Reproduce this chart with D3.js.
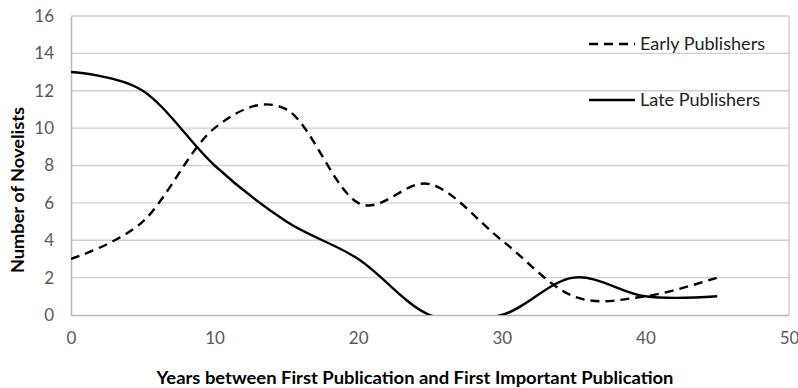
<!DOCTYPE html>
<html><head><meta charset="utf-8">
<script src="https://cdn.jsdelivr.net/npm/d3@7"></script>
<style>body{margin:0;background:#fff}svg{display:block}</style>
</head><body>
<svg id="c" width="798" height="388"></svg>
<script>
const years = [0, 5, 10, 15, 20, 25, 30, 35, 40, 45];
const earlyPublishers = [3, 5, 10, 11, 6, 7, 4, 1, 1, 2];
const latePublishers = [13, 12, 8, 5, 3, 0, 0, 2, 1, 1];
const xTicks = [0, 10, 20, 30, 40, 50];
const yTicks = [0, 2, 4, 6, 8, 10, 12, 14, 16];
const seriesNames = ["Early Publishers", "Late Publishers"];

const svg = d3.select("#c");
const m = {l:71, r:9, t:16, b:73};
const W = 798, H = 388;
const x = d3.scaleLinear().domain([0,50]).range([m.l, W-m.r]);
const y = d3.scaleLinear().domain([0,16]).range([H-m.b, m.t]);
const font = "Lato, 'Open Sans', sans-serif";

svg.append("defs").append("clipPath").attr("id","plot").append("rect")
  .attr("x", x(0)).attr("y", y(16)).attr("width", x(50)-x(0)).attr("height", y(0)-y(16));

// gridlines
svg.append("g").selectAll("line").data(yTicks.slice(1)).join("line")
  .attr("x1", x(0)).attr("x2", x(50)).attr("y1", d=>y(d)).attr("y2", d=>y(d))
  .attr("stroke", "#d0d0d0").attr("stroke-width", 1.3);
// right border
svg.append("line").attr("x1", x(50)).attr("x2", x(50)).attr("y1", y(16)).attr("y2", y(0))
  .attr("stroke", "#c8c8c8").attr("stroke-width", 1.3);

// axes
const xAxis = d3.axisBottom(x).tickValues(xTicks).tickSize(0).tickPadding(17);
const gx = svg.append("g").attr("transform", `translate(0,${y(0)})`).call(xAxis);
const yAxis = d3.axisLeft(y).tickValues(yTicks).tickSize(0).tickPadding(17);
const gy = svg.append("g").attr("transform", `translate(${x(0)},0)`).call(yAxis);
[gx, gy].forEach(g => {
  g.select(".domain").attr("stroke", "#b8b8b8").attr("stroke-width", 1.5);
  g.selectAll("text").attr("fill", "#595959").attr("font-size", 17).attr("font-family", font);
});

// lines
const line = d3.line().x((d,i)=>x(years[i])).y(d=>y(d)).curve(d3.curveCardinal.tension(0));
const lines = svg.append("g").attr("clip-path","url(#plot)");
lines.append("path").datum(earlyPublishers).attr("d", line).attr("fill","none")
  .attr("stroke","#000").attr("stroke-width",2.4).attr("stroke-dasharray","9,6");
lines.append("path").datum(latePublishers).attr("d", line).attr("fill","none")
  .attr("stroke","#000").attr("stroke-width",2.4);

// legend
const lg = svg.append("g");
const ly = [44, 100];
const lw = [125, 120];
seriesNames.forEach((n,i) => {
  lg.append("line").attr("x1",589).attr("x2",635).attr("y1",ly[i]).attr("y2",ly[i])
    .attr("stroke","#000").attr("stroke-width",2.4)
    .attr("stroke-dasharray", i===0 ? "9,6" : null);
  lg.append("text").attr("x",640).attr("y",ly[i]+6).text(n)
    .attr("font-family",font).attr("font-size",17).attr("fill","#222")
    .attr("textLength", lw[i]).attr("lengthAdjust","spacingAndGlyphs");
});

// axis titles
svg.append("text").attr("x", 415).attr("y", 384).attr("text-anchor","middle")
  .attr("font-family",font).attr("font-weight","bold").attr("font-size",16.5)
  .attr("textLength", 517).attr("lengthAdjust","spacingAndGlyphs")
  .text("Years between First Publication and First Important Publication");
svg.append("text").attr("transform","translate(24,190) rotate(-90)").attr("text-anchor","middle")
  .attr("font-family",font).attr("font-weight","bold").attr("font-size",16.5)
  .attr("textLength", 166).attr("lengthAdjust","spacingAndGlyphs")
  .text("Number of Novelists");
</script>
</body></html>
